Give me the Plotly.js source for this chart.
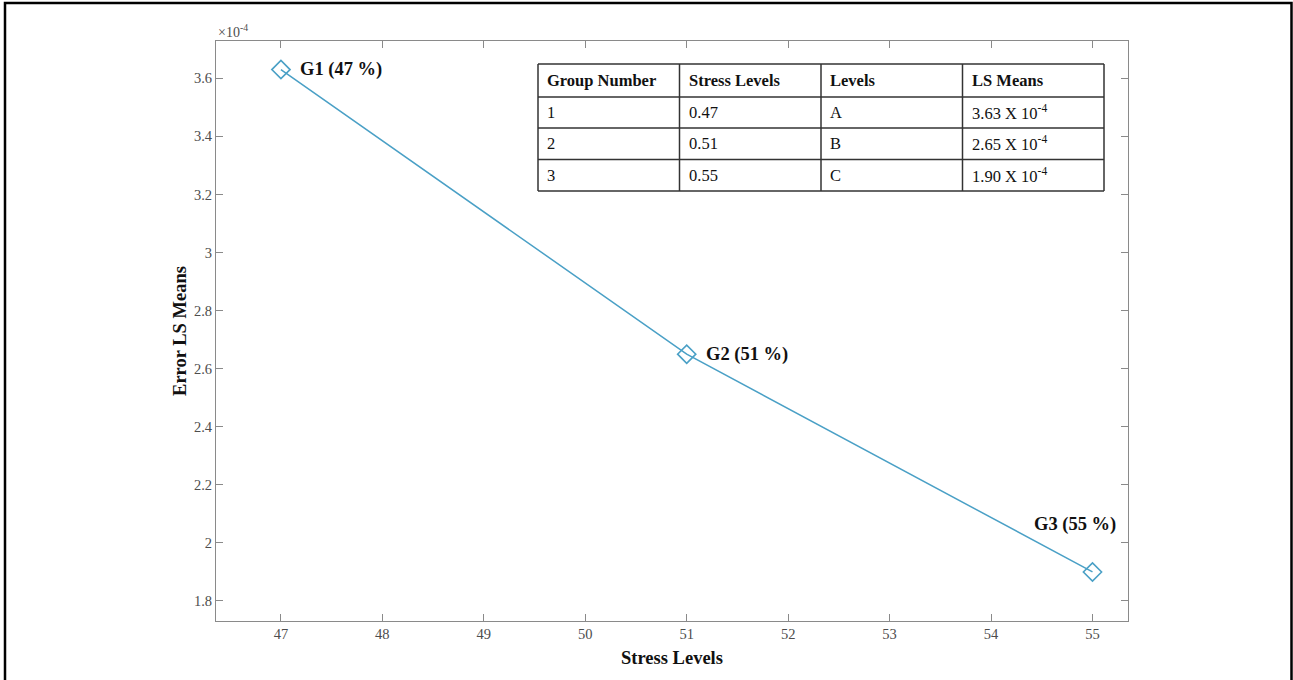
<!DOCTYPE html>
<html>
<head>
<meta charset="utf-8">
<script src="https://cdn.plot.ly/plotly-3.0.1.min.js"></script>
<style>
  html, body { margin: 0; padding: 0; background: #fff; }
  #chart { width: 1293px; height: 680px; }
</style>
</head>
<body>
<div id="chart"></div>
<script>
// ---- data ----
const stressLevels = [47, 51, 55];
const errorLSMeans = [3.63, 2.65, 1.90];          // in units of 1e-4
const pointLabels = ['G1 (47 %)', 'G2 (51 %)', 'G3 (55 %)'];
const xTicks = [47, 48, 49, 50, 51, 52, 53, 54, 55];
const yTicks = [1.8, 2, 2.2, 2.4, 2.6, 2.8, 3, 3.2, 3.4, 3.6];
const yTickLabels = ['1.8', '2', '2.2', '2.4', '2.6', '2.8', '3', '3.2', '3.4', '3.6'];

const tableHeader = ['Group Number', 'Stress Levels', 'Levels', 'LS Means'];
const colGroup = ['1', '2', '3'];
const colStress = ['0.47', '0.51', '0.55'];
const colLevels = ['A', 'B', 'C'];
const colMeans = ['3.63 X 10<sup>-4</sup>', '2.65 X 10<sup>-4</sup>', '1.90 X 10<sup>-4</sup>'];

// ---- style / layout constants ----
const serif = 'Liberation Serif, Times New Roman, serif';
const lineColor = '#4aa0c6';
const axisGray = '#8a8a8a';
const tickGray = '#4d4d4d';
const W = 1293, H = 680;
const M = { l: 216, r: 165, t: 41, b: 59 };
const PW = W - M.l - M.r, PH = H - M.t - M.b;
const px2x = p => (p - M.l) / PW;
const px2y = p => 1 - (p - M.t) / PH;

// table geometry (pixels)
const tColEdges = [538, 679.5, 821, 962.5, 1104];
const tRowEdges = [64, 97, 128, 159.5, 191];

const traces = [
  {
    type: 'scatter',
    mode: 'lines+markers',
    x: stressLevels,
    y: errorLSMeans,
    line: { color: lineColor, width: 1.5 },
    marker: { symbol: 'diamond-open', size: 14, color: lineColor, line: { color: lineColor, width: 1.6 } },
    hoverinfo: 'x+y',
    showlegend: false
  }
];

const labelShiftX = [17, 17, -17];
const labelShiftY = [0, 0, 47];
const labelAnchor = ['left', 'left', 'center'];
const annotations = pointLabels.map((t, i) => ({
  x: stressLevels[i], y: errorLSMeans[i], xref: 'x', yref: 'y',
  text: '<b>' + t + '</b>', showarrow: false,
  xanchor: labelAnchor[i], yanchor: 'middle',
  xshift: labelShiftX[i], yshift: labelShiftY[i],
  font: { family: serif, size: 18.5, color: '#111' }
}));
annotations.push({
  x: 0, y: 1, xref: 'paper', yref: 'paper', xanchor: 'left', yanchor: 'bottom',
  xshift: 0, yshift: -1,
  text: '×10<sup>-4</sup>', showarrow: false,
  font: { family: serif, size: 14, color: tickGray }
});

// table built from the arrays
const tableRows = [tableHeader.map(h => '<b>' + h + '</b>')];
for (let r = 0; r < colGroup.length; r++) {
  tableRows.push([colGroup[r], colStress[r], colLevels[r], colMeans[r]]);
}
const shapes = [];
tableRows.forEach((row, r) => {
  row.forEach((txt, c) => {
    annotations.push({
      xref: 'paper', yref: 'paper',
      x: px2x(tColEdges[c] + 7), y: px2y((tRowEdges[r] + tRowEdges[r + 1]) / 2),
      xanchor: 'left', yanchor: 'middle', showarrow: false,
      text: txt,
      font: { family: serif, size: 16.5, color: '#111' }
    });
  });
});
tRowEdges.forEach(yy => shapes.push({
  type: 'line', xref: 'paper', yref: 'paper',
  x0: px2x(tColEdges[0]), x1: px2x(tColEdges[tColEdges.length - 1]),
  y0: px2y(yy), y1: px2y(yy),
  line: { color: '#333', width: 1.5 }
}));
tColEdges.forEach(xx => shapes.push({
  type: 'line', xref: 'paper', yref: 'paper',
  x0: px2x(xx), x1: px2x(xx),
  y0: px2y(tRowEdges[0]), y1: px2y(tRowEdges[tRowEdges.length - 1]),
  line: { color: '#333', width: 1.5 }
}));
shapes.unshift({
  type: 'rect', xref: 'paper', yref: 'paper',
  x0: px2x(tColEdges[0]), x1: px2x(tColEdges[tColEdges.length - 1]),
  y0: px2y(tRowEdges[tRowEdges.length - 1]), y1: px2y(tRowEdges[0]),
  line: { width: 0 }, fillcolor: '#fff', layer: 'above'
});
// outer frame of the figure
shapes.push({
  type: 'rect', xref: 'paper', yref: 'paper',
  x0: px2x(5), x1: px2x(1291.5), y0: px2y(700), y1: px2y(3),
  line: { color: '#000', width: 2.5 }, fillcolor: 'rgba(0,0,0,0)', layer: 'below'
});

const layout = {
  width: W, height: H,
  margin: M,
  paper_bgcolor: '#fff', plot_bgcolor: '#fff',
  showlegend: false,
  xaxis: {
    range: [46.36, 55.35],
    tickvals: xTicks, ticktext: xTicks.map(String),
    showgrid: false, zeroline: false,
    showline: true, linecolor: axisGray, linewidth: 1, mirror: 'ticks',
    ticks: 'inside', ticklen: 7, tickcolor: axisGray, tickwidth: 1,
    tickfont: { family: serif, size: 14.5, color: tickGray },
    title: { text: '<b>Stress Levels</b>', font: { family: serif, size: 18.5, color: '#111' }, standoff: 9 }
  },
  yaxis: {
    range: [1.7311, 3.7284],
    tickvals: yTicks, ticktext: yTickLabels,
    showgrid: false, zeroline: false,
    showline: true, linecolor: axisGray, linewidth: 1, mirror: 'ticks',
    ticks: 'inside', ticklen: 7, tickcolor: axisGray, tickwidth: 1,
    tickfont: { family: serif, size: 14.5, color: tickGray },
    title: { text: '<b>Error LS Means</b>', font: { family: serif, size: 18.5, color: '#111' }, standoff: 2 }
  },
  annotations: annotations,
  shapes: shapes
};

Plotly.newPlot('chart', traces, layout, { displayModeBar: false, staticPlot: true });
</script>
</body>
</html>
